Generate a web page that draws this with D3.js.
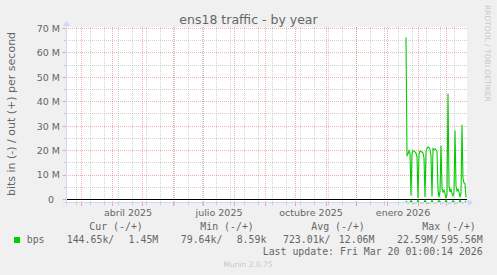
<!DOCTYPE html>
<html>
<head>
<meta charset="utf-8">
<script src="https://cdn.jsdelivr.net/npm/d3@7"></script>
<style>
  html, body { margin: 0; padding: 0; background: #f0f0f0; }
  svg { display: block; }
  text { font-family: 'DejaVu Sans', sans-serif; fill: #666; }
  .mono { font-family: 'DejaVu Sans Mono', monospace; white-space: pre; font-size: 9.9px; }
</style>
</head>
<body>
<svg id="chart" width="497" height="275"></svg>
<script>
// daily averages in Mbit/s, one value per day starting at firstDay
const firstDay = '2026-01-19';
const outVals = [66.3, 18.0, 18.6, 20.0, 19.0, 1.5, 18.8,
  20.0, 19.8, 19.5, 19.0, 17.5, 0.5, 18.5,
  19.8, 19.6, 19.5, 19.0, 17.0, 1.0, 19.5,
  21.0, 21.5, 21.2, 20.5, 18.0, 1.2, 20.8,
  20.5, 20.8, 20.2, 19.8, 4.0, 1.0, 3.5,
  22.0, 4.5, 3.0, 3.8, 2.5, 0.5, 2.0,
  43.3, 5.5, 3.0, 4.2, 2.5, 1.5, 3.0,
  28.2, 5.5, 3.5, 4.2, 3.0, 1.0, 2.5,
  30.6, 8.5, 6.8, 6.5, 0.8];
const inVals = [0.6, 1.2, 1.3, 1.3, 1.2, 0.4, 1.1,
  1.3, 1.3, 1.2, 1.3, 1.2, 0.3, 1.1,
  1.3, 1.3, 1.2, 1.3, 1.2, 0.4, 1.1,
  1.3, 1.4, 1.3, 1.3, 1.2, 0.3, 1.2,
  1.3, 1.3, 1.3, 1.2, 1.0, 0.4, 1.0,
  1.2, 1.3, 1.3, 1.2, 1.1, 0.3, 1.0,
  1.3, 1.3, 1.2, 1.3, 1.1, 0.4, 1.0,
  1.3, 1.2, 1.3, 1.2, 1.1, 0.3, 1.0,
  1.3, 1.3, 1.2, 1.2, 0.5];

const yTicks = [0, 10, 20, 30, 40, 50, 60, 70];
const yTickLabels = ['0  ', '10 M', '20 M', '30 M', '40 M', '50 M', '60 M', '70 M'];
const yMinorTicks = [5, 15, 25, 35, 45, 55, 65];

const xLabelMonths = ['2025-04-01', '2025-07-01', '2025-10-01', '2026-01-01'];
const xLabels = ['abril 2025', 'julio 2025', 'octubre 2025', 'enero 2026'];

const legendHeads = ['Cur (-/+)', 'Min (-/+)', 'Avg (-/+)', 'Max (-/+)'];
const legendIn = ['144.65k/', '79.64k/', '723.01k/', '22.59M/'];
const legendOut = ['1.45M', '8.59k', '12.06M', '595.56M'];
const lastUpdate = 'Last update: Fri Mar 20 01:00:14 2026';

const green = '#00cc00', axisCol = '#cfd6f8';
const gridCol = 'rgba(143,143,143,0.4)', mgridCol = 'rgba(224,80,80,0.45)';

const svg = d3.select('#chart');
const pL = 66, pR = 467, pT = 27, pB = 202.5;

const x = d3.scaleUtc()
  .domain([new Date('2025-02-13'), new Date('2026-03-20')])
  .range([65.5, 465.5]);
const y = d3.scaleLinear().domain([-1.23, 70]).range([pB, 28.5]);
const crisp = v => Math.round(v - 0.5) + 0.5;

const start = new Date(firstDay);
const days = outVals.map((v, i) => ({
  date: d3.utcHour.offset(d3.utcDay.offset(start, i), 12),
  out: v,
  inn: inVals[i]
}));

// canvas
svg.append('rect').attr('x', pL).attr('y', pT)
  .attr('width', pR - pL).attr('height', pB - pT).attr('fill', '#fff');

// minor vertical grid: every two weeks
const minorStart = new Date('2025-02-24');
const minorDates = d3.range(0, 30).map(k => d3.utcDay.offset(minorStart, 14 * k))
  .filter(d => x(d) < pR);
const monthDates = d3.utcMonth.range(x.domain()[0], x.domain()[1]);

const grid = svg.append('g').attr('stroke-dasharray', '1,1').attr('fill', 'none');
grid.selectAll('.vmin').data(minorDates).join('line')
  .attr('x1', d => crisp(x(d))).attr('x2', d => crisp(x(d)))
  .attr('y1', pT).attr('y2', pB).attr('stroke', gridCol);
grid.selectAll('.hmin').data(yMinorTicks).join('line')
  .attr('x1', pL).attr('x2', pR)
  .attr('y1', d => crisp(y(d))).attr('y2', d => crisp(y(d))).attr('stroke', gridCol);
grid.selectAll('.vmaj').data(monthDates).join('line')
  .attr('x1', d => crisp(x(d))).attr('x2', d => crisp(x(d)))
  .attr('y1', pT).attr('y2', pB).attr('stroke', mgridCol);
grid.selectAll('.hmaj').data(yTicks.slice(1)).join('line')
  .attr('x1', pL).attr('x2', pR)
  .attr('y1', d => crisp(y(d))).attr('y2', d => crisp(y(d))).attr('stroke', mgridCol);

// ticks outside the canvas
const ticks = svg.append('g');
ticks.selectAll('.tx').data(minorDates).join('line')
  .attr('x1', d => crisp(x(d))).attr('x2', d => crisp(x(d)))
  .attr('y1', pB).attr('y2', pB + 2.5).attr('stroke', gridCol);
ticks.selectAll('.tX').data(monthDates).join('line')
  .attr('x1', d => crisp(x(d))).attr('x2', d => crisp(x(d)))
  .attr('y1', pB).attr('y2', pB + 3.5).attr('stroke', mgridCol);
ticks.selectAll('.ty').data(yMinorTicks).join('line')
  .attr('x1', pL - 2).attr('x2', pL)
  .attr('y1', d => crisp(y(d))).attr('y2', d => crisp(y(d))).attr('stroke', gridCol);
ticks.selectAll('.tY').data(yTicks).join('line')
  .attr('x1', pL - 3.5).attr('x2', pL)
  .attr('y1', d => crisp(y(d))).attr('y2', d => crisp(y(d))).attr('stroke', mgridCol);

// zero line
svg.append('line').attr('x1', pL).attr('x2', pR)
  .attr('y1', crisp(y(0))).attr('y2', crisp(y(0)))
  .attr('stroke', '#000').attr('stroke-width', 1);

// data: out above zero, in mirrored below
const lineOut = d3.line().x(d => x(d.date)).y(d => y(d.out));
const lineIn = d3.line().x(d => x(d.date)).y(d => y(-d.inn));
svg.append('path').datum(days).attr('d', lineOut)
  .attr('fill', 'none').attr('stroke', green).attr('stroke-width', 1.1);
svg.append('path').datum(days).attr('d', lineIn)
  .attr('fill', 'none').attr('stroke', green).attr('stroke-width', 1.1);

// axes with arrows
svg.append('line').attr('x1', pL - 3).attr('x2', pR + 2)
  .attr('y1', pB).attr('y2', pB).attr('stroke', axisCol);
svg.append('line').attr('x1', 66.5).attr('x2', 66.5)
  .attr('y1', pB + 3).attr('y2', 23).attr('stroke', axisCol);
svg.append('path').attr('fill', axisCol)
  .attr('d', `M${pR + 1},${pB - 3.5}L${pR + 6},${pB}L${pR + 1},${pB + 3.5}Z`);
svg.append('path').attr('fill', axisCol)
  .attr('d', `M63,26L66.5,20.5L70,26Z`);

// axis labels
svg.selectAll('.ylab').data(yTicks).join('text')
  .attr('x', 60).attr('y', d => y(d)).attr('dy', '0.35em')
  .attr('text-anchor', 'end').style('white-space', 'pre').style('font-size', '9.5px')
  .text((d, i) => yTickLabels[i]);
svg.selectAll('.xlab').data(xLabelMonths).join('text')
  .attr('x', d => x(d3.utcHour.offset(new Date(d), 372))).attr('y', 216)
  .attr('text-anchor', 'middle').style('font-size', '9.5px')
  .text((d, i) => xLabels[i]);

svg.append('text').attr('x', 248.5).attr('y', 24).attr('text-anchor', 'middle')
  .style('font-size', '12.5px').text('ens18 traffic - by year');
svg.append('text').attr('transform', 'translate(15,114) rotate(-90)')
  .attr('text-anchor', 'middle').style('font-size', '11px')
  .text('bits in (-) / out (+) per second');
svg.append('text').attr('transform', 'translate(485,5) rotate(90)')
  .style('font-size', '7.5px').style('fill', '#c8c8c8')
  .text('RRDTOOL / TOBI OETIKER');

// legend
svg.append('rect').attr('x', 14).attr('y', 237).attr('width', 6).attr('height', 6)
  .attr('fill', green);
svg.append('text').attr('class', 'mono').attr('x', 26.7).attr('y', 243).text('bps');
svg.selectAll('.lh').data(legendHeads).join('text').attr('class', 'mono')
  .attr('x', (d, i) => 89.3 + 111 * i).attr('y', 230).text(d => d);
svg.selectAll('.li').data(legendIn).join('text').attr('class', 'mono')
  .attr('x', (d, i) => 114.3 + 108.1 * i).attr('y', 243)
  .attr('text-anchor', 'end').text(d => d);
svg.selectAll('.lo').data(legendOut).join('text').attr('class', 'mono')
  .attr('x', (d, i) => 158.3 + 108.1 * i).attr('y', 243)
  .attr('text-anchor', 'end').text(d => d);
svg.append('text').attr('class', 'mono').attr('x', 482.7).attr('y', 255)
  .attr('text-anchor', 'end').text(lastUpdate);
svg.append('text').attr('x', 248).attr('y', 266.5).attr('text-anchor', 'middle')
  .style('font-size', '7.5px').style('fill', '#c8c8c8').text('Munin 2.0.75');
</script>
</body>
</html>
